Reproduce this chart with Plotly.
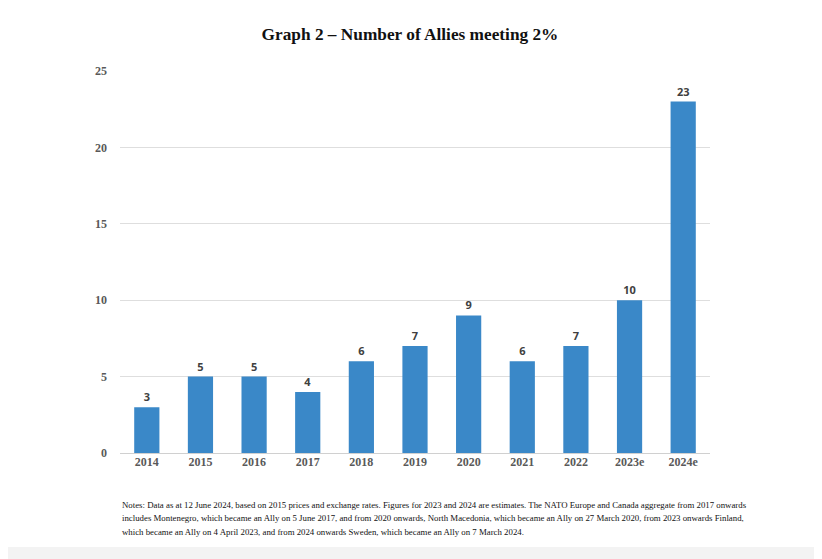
import plotly.graph_objects as go

years = ["2014", "2015", "2016", "2017", "2018", "2019", "2020", "2021", "2022", "2023e", "2024e"]
allies = [3, 5, 5, 4, 6, 7, 9, 6, 7, 10, 23]
y_ticks = [0, 5, 10, 15, 20, 25]

title = "Graph 2 – Number of Allies meeting 2%"
notes_lines = [
    "Notes: Data as at 12 June 2024, based on 2015 prices and exchange rates. Figures for 2023 and 2024 are estimates. The NATO Europe and Canada aggregate from 2017 onwards",
    "includes Montenegro, which became an Ally on 5 June 2017, and from 2020 onwards, North Macedonia, which became an Ally on 27 March 2020, from 2023 onwards Finland,",
    "which became an Ally on 4 April 2023, and from 2024 onwards Sweden, which became an Ally on 7 March 2024.",
]

# page body adds an 8px offset; compensate in margins
OFF = 8
W, H = 822, 559
L, T, R, B = 120 - OFF, 71 - OFF, W - (710 - OFF), H - (453 - OFF)
PH = H - T - B

fig = go.Figure(go.Bar(
    x=years, y=allies,
    marker=dict(color="#3a88c8", line=dict(width=0)),
    text=[str(v) for v in allies], textposition="outside",
    textfont=dict(family="Open Sans", size=11, color="#404040", weight="bold"),
    cliponaxis=False,
))

annotations = []
for i, line in enumerate(notes_lines):
    yc = 505 + i * 13.3
    annotations.append(dict(text=line, xref="paper", yref="paper", x=0, xanchor="left",
                            y=-(yc - 453) / PH, yanchor="middle", showarrow=False, align="left",
                            font=dict(family="Liberation Serif", size=8.8, color="#111111")))

fig.update_layout(
    width=W, height=H,
    margin=dict(l=L, r=R, t=T, b=B),
    paper_bgcolor="white", plot_bgcolor="white",
    bargap=0.53,
    showlegend=False,
    title=dict(text="<b>" + title + "</b>", x=(410 - OFF) / W, xanchor="center", y=1 - (34 - OFF) / H, yanchor="middle",
               font=dict(family="Liberation Serif", size=17.3, color="#111111")),
    xaxis=dict(tickfont=dict(family="Liberation Serif", size=12, color="#595959", weight="bold"),
               showline=False, ticks="", showgrid=False),
    yaxis=dict(range=[0, 25], tickvals=y_ticks, showgrid=True, gridcolor="#dedede", gridwidth=1,
               zeroline=True, zerolinecolor="#d0d0d0", zerolinewidth=1,
               tickfont=dict(family="Liberation Serif", size=12, color="#595959", weight="bold"),
               ticks="", ticklabelstandoff=12),
    annotations=annotations,
    shapes=[dict(type="rect", xref="paper", yref="paper", x0=-1, x1=2,
                 y0=-(547 - 453) / PH, y1=-(600 - 453) / PH,
                 fillcolor="#f3f3f3", line=dict(width=0), layer="below")],
)

fig.write_html("out.html")
